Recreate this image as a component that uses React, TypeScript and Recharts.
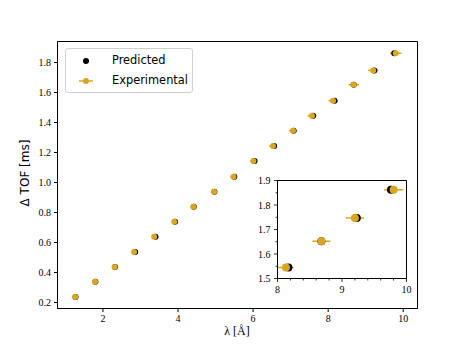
import React from 'react';
import { ScatterChart, Scatter, XAxis, YAxis, ErrorBar, ReferenceArea, Legend } from 'recharts';

const expX = [1.26, 1.79, 2.31, 2.83, 3.365, 3.9, 4.41, 4.96, 5.48, 6.01, 6.53, 7.065, 7.57, 8.13, 8.68, 9.2, 9.8];
const expY = [0.236, 0.339, 0.436, 0.536, 0.638, 0.739, 0.839, 0.938, 1.039, 1.143, 1.244, 1.345, 1.445, 1.545, 1.652, 1.747, 1.862];
const expErr = [0.02, 0.03, 0.04, 0.05, 0.05, 0.06, 0.07, 0.08, 0.09, 0.09, 0.1, 0.11, 0.12, 0.12, 0.14, 0.14, 0.15];
const predX = [1.27, 1.8, 2.32, 2.86, 3.4, 3.92, 4.42, 4.97, 5.5, 6.04, 6.56, 7.08, 7.6, 8.17, 8.68, 9.23, 9.76];
const predY = [0.236, 0.339, 0.436, 0.536, 0.638, 0.739, 0.839, 0.938, 1.039, 1.143, 1.244, 1.345, 1.445, 1.545, 1.652, 1.747, 1.862];

const mainXTicks = [2, 4, 6, 8, 10];
const mainYTicks = [0.2, 0.4, 0.6, 0.8, 1.0, 1.2, 1.4, 1.6, 1.8];
const insetXTicks = [8, 8.2, 8.4, 8.6, 8.8, 9, 9.2, 9.4, 9.6, 9.8, 10];
const insetYTicks = [1.5, 1.55, 1.6, 1.65, 1.7, 1.75, 1.8, 1.85, 1.9];

const ORANGE = '#DAA520';
const SERIF = '"Liberation Serif", "DejaVu Serif", serif';
const SANS = '"DejaVu Sans", sans-serif';

const expData = expX.map((x, i) => ({ x, y: expY[i], err: expErr[i] }));
const predData = predX.map((x, i) => ({ x, y: predY[i] }));
const insetExp = expData.filter((d) => d.x >= 8);
const insetPred = predData.filter((d) => d.x >= 8);

const dot = (r: number, fill: string) => (p: any) => <circle cx={p.cx} cy={p.cy} r={r} fill={fill} />;

const tickStyle = { fontFamily: SERIF, fontSize: 10, fill: '#000' };

const InsetXTick = (p: any) => {
  const v = p.payload.value;
  const major = Math.abs(v - Math.round(v)) < 1e-6;
  return (
    <g>
      <line x1={p.x} x2={p.x} y1={p.y} y2={p.y + (major ? 3.5 : 2)} stroke="#000" strokeWidth={0.8} />
      {major && (
        <text x={p.x} y={p.y + 7} dy="0.75em" textAnchor="middle" style={tickStyle}>
          {String(Math.round(v))}
        </text>
      )}
    </g>
  );
};

const InsetYTick = (p: any) => {
  const v = p.payload.value;
  const major = Math.abs(v * 10 - Math.round(v * 10)) < 1e-6;
  return (
    <g>
      <line x1={p.x} x2={p.x - (major ? 3.5 : 2)} y1={p.y} y2={p.y} stroke="#000" strokeWidth={0.8} />
      {major && (
        <text x={p.x - 7} y={p.y} dy="0.35em" textAnchor="end" style={tickStyle}>
          {v.toFixed(1)}
        </text>
      )}
    </g>
  );
};

const renderLegend = () => (
  <div
    style={{
      width: 126,
      height: 43,
      border: '1px solid #d0d0d0',
      borderRadius: 3,
      background: 'rgba(255,255,255,0.8)',
      fontFamily: SANS,
      fontSize: 11.4,
      color: '#000',
      position: 'relative',
    }}
  >
    <svg width={30} height={43} style={{ position: 'absolute', left: 10, top: 0 }}>
      <circle cx={10} cy={12} r={3} fill="#000" />
      <line x1={3} x2={17} y1={32} y2={32} stroke={ORANGE} strokeWidth={1.5} />
      <circle cx={10} cy={32} r={3} fill={ORANGE} />
    </svg>
    <div style={{ position: 'absolute', left: 46, top: 4 }}>Predicted</div>
    <div style={{ position: 'absolute', left: 46, top: 24 }}>Experimental</div>
  </div>
);

export default function App() {
  return (
    <div style={{ position: 'absolute', left: 0, top: 0, width: 463, height: 347, background: '#fff' }}>
      <ScatterChart width={463} height={347} margin={{ top: 41.5, right: 45.5, bottom: 0, left: 0 }}>
        <XAxis
          type="number"
          dataKey="x"
          domain={[0.79, 10.38]}
          ticks={mainXTicks}
          interval={0}
          allowDataOverflow
          height={38.5}
          tickSize={3.5}
          tickMargin={3}
          stroke="#000"
          tick={tickStyle}
          label={{
            content: () => (
              <text x={237} y={331} textAnchor="middle" dominantBaseline="central" style={{ fontFamily: SERIF, fontSize: 12, fill: '#000' }}>
                λ [Å]
              </text>
            ),
          }}
        />
        <YAxis
          type="number"
          dataKey="y"
          domain={[0.16, 1.94]}
          ticks={mainYTicks}
          interval={0}
          allowDataOverflow
          width={57.5}
          tickSize={3.5}
          tickMargin={3}
          stroke="#000"
          tick={tickStyle}
          tickFormatter={(v: number) => v.toFixed(1)}
          label={{
            content: () => (
              <text x={25} y={173} transform="rotate(-90 25 173)" textAnchor="middle" dominantBaseline="central" style={{ fontFamily: SANS, fontSize: 12, fill: '#000' }}>
                Δ TOF [ms]
              </text>
            ),
          }}
        />
        <ReferenceArea x1={0.79} x2={10.38} y1={0.16} y2={1.94} fill="none" stroke="#000" strokeWidth={1} fillOpacity={0} strokeOpacity={1} />
        <Legend
          layout="vertical"
          align="center"
          verticalAlign="middle"
          content={renderLegend}
          wrapperStyle={{ position: 'absolute', left: 65, top: 48, width: 128, height: 45 }}
        />
        <Scatter name="Predicted" data={predData} fill="#000" shape={dot(3, '#000')} isAnimationActive={false} />
        <Scatter name="Experimental" data={expData} fill={ORANGE} shape={dot(3, ORANGE)} isAnimationActive={false}>
          <ErrorBar dataKey="err" direction="x" width={0} stroke={ORANGE} strokeWidth={1.5} isAnimationActive={false} />
        </Scatter>
      </ScatterChart>

      <div style={{ position: 'absolute', left: 278, top: 181, width: 129, height: 97, background: '#fff' }} />
      <div style={{ position: 'absolute', left: 248, top: 171 }}>
        <ScatterChart width={180} height={129} margin={{ top: 9.5, right: 21.5, bottom: 0, left: 0 }}>
          <XAxis
            type="number"
            dataKey="x"
            domain={[8, 10]}
            ticks={insetXTicks}
            interval={0}
            allowDataOverflow
            height={21.5}
            tickSize={0}
            tickMargin={0}
            stroke="#000"
            tick={<InsetXTick />}
          />
          <YAxis
            type="number"
            dataKey="y"
            domain={[1.5, 1.9]}
            ticks={insetYTicks}
            interval={0}
            allowDataOverflow
            width={29.5}
            tickSize={0}
            tickMargin={0}
            stroke="#000"
            tick={<InsetYTick />}
          />
          <ReferenceArea x1={8} x2={10} y1={1.5} y2={1.9} fill="none" stroke="#000" strokeWidth={1} fillOpacity={0} strokeOpacity={1} />
          <Scatter data={insetPred} fill="#000" shape={dot(4, '#000')} isAnimationActive={false} />
          <Scatter data={insetExp} fill={ORANGE} shape={dot(4, ORANGE)} isAnimationActive={false}>
            <ErrorBar dataKey="err" direction="x" width={0} stroke={ORANGE} strokeWidth={1.5} isAnimationActive={false} />
          </Scatter>
        </ScatterChart>
      </div>
    </div>
  );
}
